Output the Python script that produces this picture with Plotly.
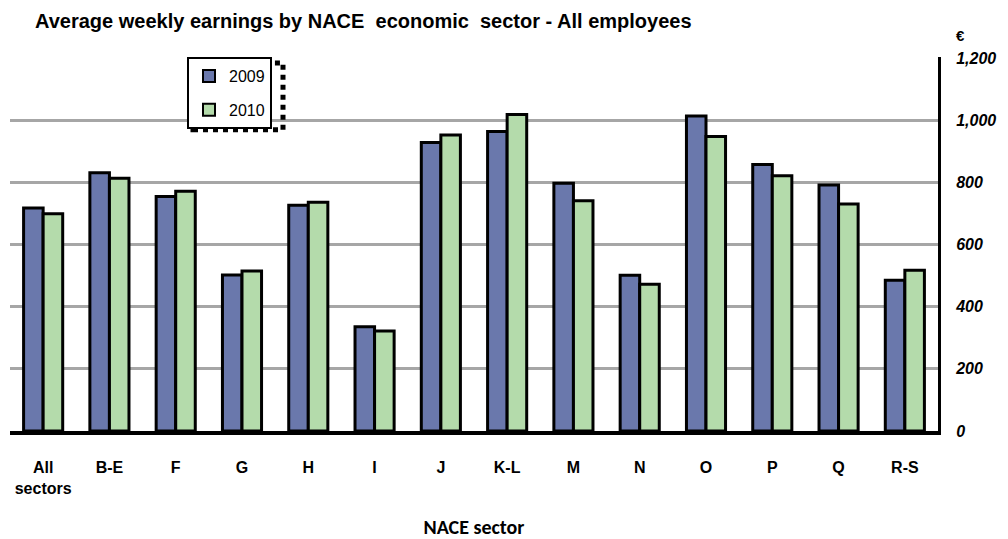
import plotly.graph_objects as go

categories = ["All<br>sectors", "B-E", "F", "G", "H", "I", "J", "K-L", "M", "N", "O", "P", "Q", "R-S"]
earnings_2009 = [717, 831, 754, 502, 726, 335, 928, 963, 797, 501, 1013, 857, 791, 485]
earnings_2010 = [699, 813, 771, 515, 736, 322, 952, 1018, 741, 472, 947, 821, 730, 517]
y_ticks = [0, 200, 400, 600, 800, 1000, 1200]
y_tick_labels = ["0", "200", "400", "600", "800", "1,000", "1,200"]

# page has an 8px body margin; work in screen pixels and shift
OFF = 8
W, H = 1008 - OFF, 539 - OFF
ML, MT = 10 - OFF, 57 - OFF
MR = 1008 - 938
MB = 539 - 437
PW, PH = W - ML - MR, H - MT - MB


def px_x(p):
    return (p - OFF - ML) / PW


def px_y(p):
    return 1 - (p - OFF - MT) / PH


fig = go.Figure()
fig.add_trace(go.Bar(name="2009", x=categories, y=earnings_2009, legendgroup="a",
                     marker=dict(color="#6A78AC", line=dict(color="black", width=3))))
fig.add_trace(go.Bar(name="2010", x=categories, y=earnings_2010, legendgroup="b",
                     marker=dict(color="#B4DBAB", line=dict(color="black", width=3))))

# legend dotted shadow (right and bottom strips)
LX0, LX1, LY0, LY1 = 187, 280, 57, 128
fig.add_shape(type="rect", xref="paper", yref="paper",
              x0=px_x(LX0 + 6), x1=px_x(LX1 + 3), y0=px_y(LY1 + 3), y1=px_y(LY0 + 6),
              fillcolor="rgba(0,0,0,0)", line=dict(color="black", width=5, dash="dot"),
              layer="above")

fig.update_layout(
    width=W, height=H,
    margin=dict(l=ML, r=MR, t=MT, b=MB),
    paper_bgcolor="white", plot_bgcolor="white",
    barmode="group", bargap=0.41, bargroupgap=0,
    font=dict(family="Liberation Sans, Arial, sans-serif", color="black"),
    title=dict(text="<b>Average weekly earnings by NACE  economic  sector - All employees</b>",
               x=(35 - OFF) / W, xanchor="left", y=1 - (21 - OFF) / H, yanchor="middle",
               font=dict(size=20, color="black")),
    showlegend=True,
    legend=dict(x=px_x(LX0), y=1.0, xanchor="left", yanchor="top",
                bgcolor="white", bordercolor="black", borderwidth=2,
                font=dict(size=16), tracegroupgap=10,
                itemsizing="constant", itemwidth=30),
    xaxis=dict(showline=True, linecolor="black", linewidth=4, showgrid=False,
               tickfont=dict(size=16, weight="bold"), ticks="", ticklabelstandoff=19,
               title=dict(text="<b>NACE sector</b>",
                          font=dict(size=20, family="Carlito, Calibri, sans-serif"),
                          standoff=26),
               range=[-0.5, 13.5]),
    yaxis=dict(side="right", range=[0, 1203], tickvals=y_ticks, ticktext=y_tick_labels,
               showline=True, linecolor="black", linewidth=3, mirror=False,
               showgrid=True, gridcolor="#A6A6A6", gridwidth=3, zeroline=False,
               tickfont=dict(size=16, weight="bold", style="italic"), ticks="",
               ticklabelstandoff=12),
    annotations=[dict(text="<b>€</b>", xref="paper", yref="paper", x=px_x(954), y=px_y(35),
                      xanchor="left", yanchor="middle", showarrow=False, font=dict(size=15))],
)

fig.write_html("out.html")
